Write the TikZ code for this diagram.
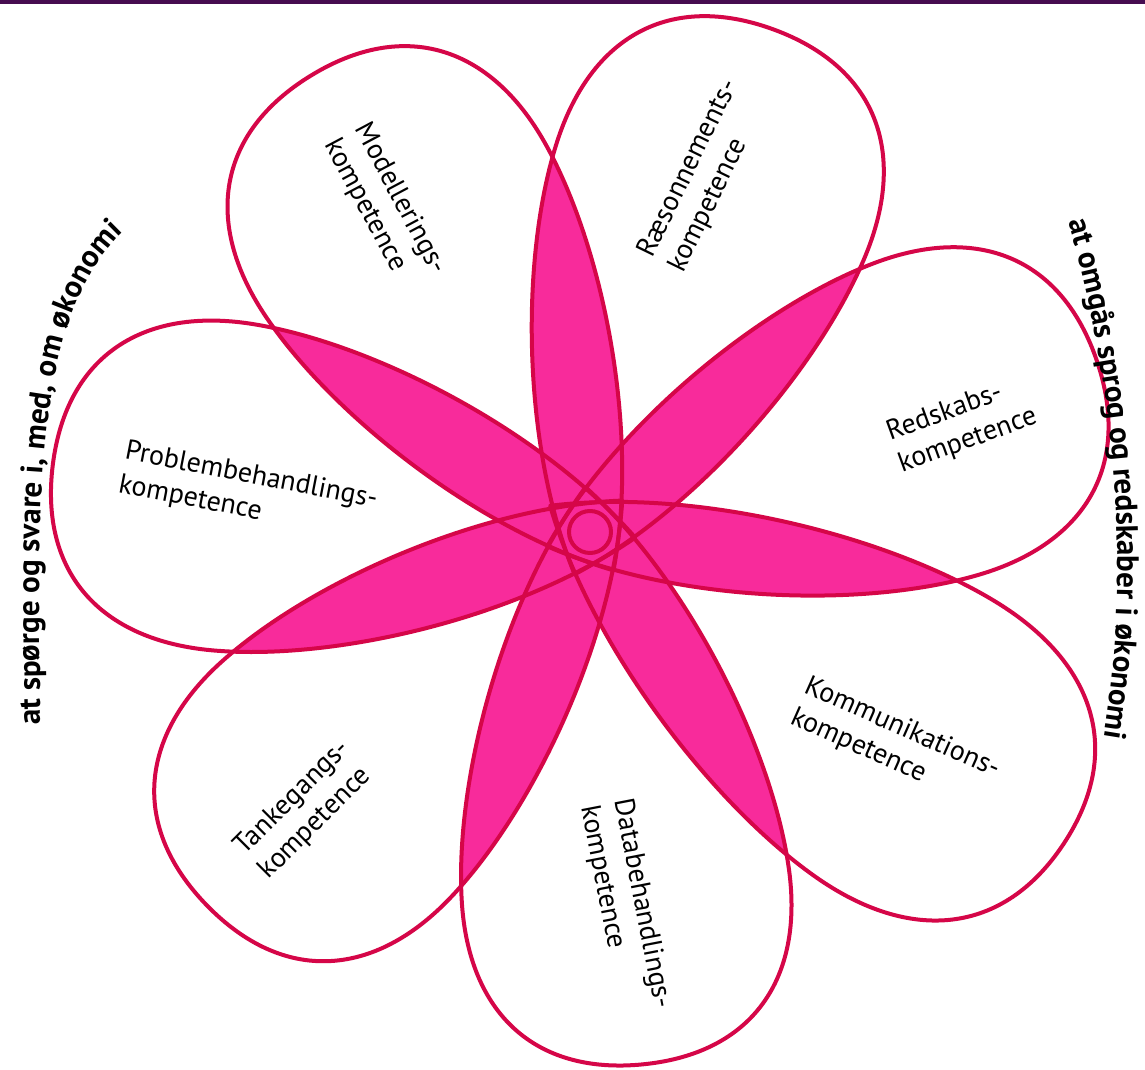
\documentclass[tikz,border=0pt]{standalone}
\usepackage{fontspec}
\setmainfont{PT Sans}
\usetikzlibrary{decorations.text}
\definecolor{petalline}{RGB}{213,6,72}
\definecolor{petalfill}{RGB}{248,43,155}
\definecolor{topbar}{RGB}{70,12,80}
\def\petal{(-45,0) .. controls (60,95) and (236,160) .. (355.6,164.4) .. controls (465.5,168.4) and (535,110) .. (535,0) .. controls (535,-110) and (465.5,-168.4) .. (355.6,-164.4) .. controls (236,-160) and (60,-95) .. cycle}
\begin{document}
\begin{tikzpicture}[x=1pt,y=1pt,
  p0/.style={shift={(590,538)},rotate=70},
  p1/.style={shift={(590,538)},rotate=18.571},
  p2/.style={shift={(590,538)},rotate=-33.3,xscale=1.06},
  p3/.style={shift={(590,538)},rotate=-84.286},
  p4/.style={shift={(590,538)},rotate=-135.714},
  p5/.style={shift={(590,538)},rotate=-187.143,xscale=1.012},
  p6/.style={shift={(590,538)},rotate=-238.571},
  outline/.style={draw=petalline, line width=4pt, line join=round},
  lbl/.style={align=left, font=\fontsize{28}{34}\selectfont, inner sep=0pt},
  arctext/.style={decorate, decoration={text along path, text align=left,
     text={|\bfseries\fontsize{31}{31}\selectfont|#1}}}]
\useasboundingbox (0,0) rectangle (1145,1070);
\fill[white] (0,0) rectangle (1145,1070);
\fill[topbar] (0,1066) rectangle (1145,1070);
% pink overlaps
\foreach \i in {0,...,5}{
  \pgfmathtruncatemacro\js{\i+1}
  \foreach \j in {\js,...,6}{
    \begin{scope}
      \clip[p\i] \petal;
      \fill[petalfill,p\j] \petal;
    \end{scope}
  }
}
% outlines
\foreach \i in {0,...,6}{
  \draw[outline,p\i] \petal;
}
\draw[outline] (590,538) circle[radius=21];
% labels
\node[lbl, rotate=-62] (modl) at (385,863) {Modellerings-\\kompetence};
\node[lbl, rotate=64] (raes) at (704,894) {Ræsonnements-\\kompetence};
\node[lbl, rotate=20] (reds) at (962,645) {Redskabs-\\kompetence};
\node[lbl, rotate=-24] (komm) at (895,326) {Kommunikations-\\kompetence};
\node[lbl, rotate=-79] (data) at (625,163) {Databehandlings-\\kompetence};
\node[lbl, rotate=45] (tank) at (305,260) {Tankegangs-\\kompetence};
\node[lbl, rotate=-11] (prob) at (248,577) {Problembehandlings-\\kompetence};
% arc texts
\path[arctext={at spørge og svare i, med, om økonomi}] (41,345) .. controls (36,590) and (36,770) .. (135,848) -- (175,881);
\path[arctext={at omgås sprog og redskaber i økonomi}] (1068,848) .. controls (1100,740) and (1142,530) .. (1100,310) -- (1085,260);
\end{tikzpicture}
\end{document}
